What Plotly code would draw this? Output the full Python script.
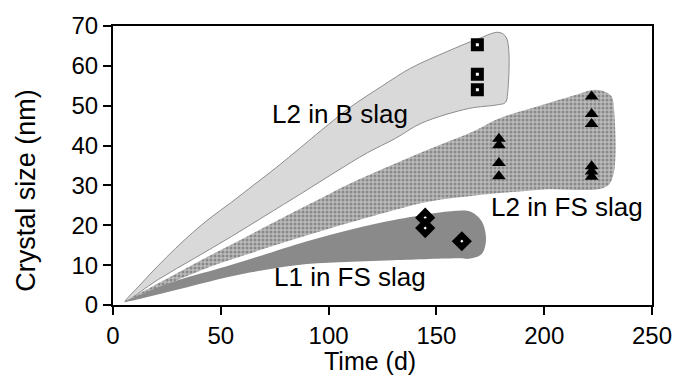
import plotly.graph_objects as go

# ---- region boundaries (Time d, Crystal size nm) ----
b_slag_x = [5.5, 13, 21, 29, 37, 45, 55, 65, 76, 87, 97, 110, 125, 138, 155, 169, 179, 182.5, 183, 182, 178,
            165, 143, 131, 118, 103, 88, 70, 55, 38, 21, 5.5]
b_slag_y = [0.8, 5.3, 9.9, 14.2, 18.2, 21.8, 25.8, 30.0, 34.6, 39.5, 44.0, 49.6, 55.0, 59.4, 63.6, 66.7,
            68.4, 67, 53, 50.8, 50.2, 49.3, 45.6, 41.8, 38.2, 33.3, 28.2, 22.2, 17.2, 11.8, 6.4, 0.8]

fs_l2_x = [5.5, 23, 40, 55, 72, 90, 110, 131, 150, 167, 179, 197.5, 214, 224, 231, 232.4, 232, 228.5,
           200, 182, 167, 145, 131, 110, 90, 65, 44.2, 20, 5.5]
fs_l2_y = [0.8, 6.0, 11.0, 15.2, 20.0, 25.0, 30.5, 35.5, 39.8, 43.5, 46.8, 49.9, 52.6, 54, 52.5, 49,
           32.5, 29.6, 29.0, 28.2, 27.4, 25.8, 23.9, 20.7, 17.5, 13.2, 9.4, 4.0, 0.8]

fs_l1_x = [5.5, 14, 30, 52, 67, 90, 110, 131, 158, 166, 171, 173, 171, 165, 161, 130, 105, 85, 64, 44, 25,
           8, 5.5]
fs_l1_y = [0.8, 2.9, 6.2, 9.6, 12.1, 16.0, 18.9, 21.4, 23.6, 23.4, 21.0, 16.5, 12.8, 11.6, 11.7, 11.2,
           10.7, 10.0, 8.2, 5.8, 3.2, 1.0, 0.8]

# ---- measured points ----
sq_x = [169, 169, 169]
sq_y = [65.3, 57.9, 54.0]
tri_x = [179, 179, 179, 179, 222, 222, 222, 222, 222, 222]
tri_y = [41.7, 40.1, 35.6, 32.3, 52.3, 47.9, 45.4, 34.8, 33.5, 32.2]
dia_x = [144.8, 144.8, 161.8]
dia_y = [21.9, 19.3, 16.0]

labels = ["L2 in B slag", "L2 in FS slag", "L1 in FS slag"]
label_x = [105.2, 210.6, 109.8]
label_y = [48.0, 24.6, 7.0]

x_ticks = [0, 50, 100, 150, 200, 250]
y_ticks = [0, 10, 20, 30, 40, 50, 60, 70]
x_title = "Time (d)"
y_title = "Crystal size (nm)"

FONT = "Liberation Sans, Arial, sans-serif"
W, H = 684, 383
ML, MR, MT, MB = 113, 22, 21, 78

fig = go.Figure()
fig.add_trace(go.Scatter(x=b_slag_x, y=b_slag_y, fill="toself", mode="lines",
                         fillcolor="#d9d9d9",
                         line=dict(color="#8c8c8c", width=1, shape="spline", smoothing=1.0),
                         hoverinfo="skip"))
fig.add_trace(go.Scatter(x=fs_l2_x, y=fs_l2_y, fill="toself", mode="lines",
                         fillcolor="#b4b4b4",
                         line=dict(color="rgba(0,0,0,0)", width=0, shape="spline", smoothing=1.0),
                         fillpattern=dict(shape=".", bgcolor="#bababa", fgcolor="#585858",
                                          size=4, solidity=0.45),
                         hoverinfo="skip"))
fig.add_trace(go.Scatter(x=fs_l1_x, y=fs_l1_y, fill="toself", mode="lines",
                         fillcolor="#8a8a8a",
                         line=dict(color="rgba(0,0,0,0)", width=0, shape="spline", smoothing=1.0),
                         hoverinfo="skip"))

fig.add_trace(go.Scatter(x=sq_x, y=sq_y, mode="markers",
                         marker=dict(symbol="square", size=8, color="white",
                                     line=dict(color="black", width=5))))
fig.add_trace(go.Scatter(x=tri_x, y=tri_y, mode="markers",
                         marker=dict(symbol="triangle-up", size=12, color="black",
                                     line=dict(width=0))))
fig.add_trace(go.Scatter(x=dia_x, y=dia_y, mode="markers",
                         marker=dict(symbol="diamond", size=9, color="white",
                                     line=dict(color="black", width=6))))

for t, x, y in zip(labels, label_x, label_y):
    fig.add_annotation(x=x, y=y, text=t, showarrow=False, xanchor="center", yanchor="middle",
                       font=dict(family=FONT, size=26, color="black"))

# axis titles placed as paper annotations
pw, ph = W - ML - MR, H - MT - MB
fig.add_annotation(xref="paper", yref="paper", x=(375 - ML) / pw, y=-(362 - (H - MB)) / ph,
                   text=x_title, showarrow=False, xanchor="center", yanchor="middle",
                   font=dict(family=FONT, size=25, color="black"))
fig.add_annotation(xref="paper", yref="paper", x=(24 - ML) / pw, y=((H - MB) - 188) / ph,
                   text=y_title, textangle=-90, showarrow=False, xanchor="center", yanchor="middle",
                   font=dict(family=FONT, size=27, color="black"))

fig.update_layout(
    width=W, height=H,
    margin=dict(l=ML, r=MR, t=MT, b=MB),
    paper_bgcolor="white", plot_bgcolor="white",
    showlegend=False,
    font=dict(family=FONT, size=24, color="black"),
)
fig.update_xaxes(range=[0, 250], tickvals=x_ticks, showgrid=False, zeroline=False,
                 showline=True, linecolor="black", linewidth=2, mirror=True,
                 ticks="outside", ticklen=8, tickwidth=2, tickcolor="black",
                 tickfont=dict(size=24))
fig.update_yaxes(range=[0, 70], tickvals=y_ticks, showgrid=False, zeroline=False,
                 showline=True, linecolor="black", linewidth=2, mirror=True,
                 ticks="outside", ticklen=8, tickwidth=2, tickcolor="black",
                 tickfont=dict(size=24))

fig.write_html("out.html")
